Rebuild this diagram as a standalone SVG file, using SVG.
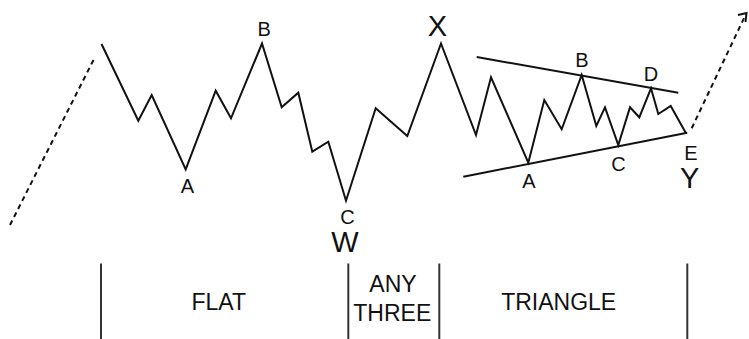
<svg xmlns="http://www.w3.org/2000/svg" width="749" height="339" viewBox="0 0 749 339">
<style>
.ln{fill:none;stroke:#111;stroke-width:2;stroke-linejoin:miter;stroke-linecap:butt}
.dash{fill:none;stroke:#111;stroke-width:2;stroke-dasharray:5 4}
.div{stroke:#333;stroke-width:2}
.sm{font-family:"Liberation Sans",Arial,sans-serif;font-size:20px;fill:#111;text-anchor:middle}
.big{font-family:"Liberation Sans",Arial,sans-serif;font-size:29px;fill:#111;text-anchor:middle}
.sec{font-family:"Liberation Sans",Arial,sans-serif;font-size:23px;fill:#111;text-anchor:middle}
</style>
<rect width="749" height="339" fill="#fff"/>
<g id="connectors">
<path class="dash" d="M10,225 L95,57"/>
<polyline class="ln" points="101.5,44 138.3,120.7 151.7,95 185.7,169.3 215.7,90.7 231,118.3 262,43.5 281.7,107.3 298.3,92.7 312.3,151.7 328.3,141.7 346,200.7 375.7,108.3 407.3,136 441,43.5 476,135 491,77.3 528.3,162.7 544.3,100 561.7,129.3 581.7,75 596.3,126 605,107.3 618.3,145 630,107.3 639.3,117.3 651,88.3 658.3,114 670.7,106 686,133.3"/>
<path class="ln" d="M476.7,57 L678.3,92.7"/>
<path class="ln" d="M463.3,176.7 L687.3,132.7"/>
<path class="dash" d="M691.7,128.3 L745,16"/>
<polyline class="ln" points="738,15 746.5,13 745.5,22" stroke-width="1.8"/>
</g>
<g id="dividers">
<line class="div" x1="101" y1="263.5" x2="101" y2="339"/>
<line class="div" x1="348.3" y1="263.5" x2="348.3" y2="339"/>
<line class="div" x1="439.3" y1="263.5" x2="439.3" y2="339"/>
<line class="div" x1="687.3" y1="263.5" x2="687.3" y2="339"/>
</g>
<g id="label-A1"><text class="sm" x="187.5" y="192.5">A</text></g>
<g id="label-B1"><text class="sm" x="264.2" y="36">B</text></g>
<g id="label-C1"><text class="sm" x="347.5" y="224">C</text></g>
<g id="label-W"><text class="big" x="345" y="252">W</text></g>
<g id="label-X"><text class="big" x="437.5" y="36">X</text></g>
<g id="label-A2"><text class="sm" x="528.8" y="188.3">A</text></g>
<g id="label-B2"><text class="sm" x="582" y="66.7">B</text></g>
<g id="label-C2"><text class="sm" x="618.5" y="170.7">C</text></g>
<g id="label-D"><text class="sm" x="651" y="80.7">D</text></g>
<g id="label-E"><text class="sm" x="691" y="160">E</text></g>
<g id="label-Y"><text class="big" x="689.7" y="188.3">Y</text></g>
<g id="section-flat"><text class="sec" x="218.7" y="310">FLAT</text></g>
<g id="section-any-three"><text class="sec" x="393" y="291.7">ANY</text><text class="sec" x="392.3" y="321">THREE</text></g>
<g id="section-triangle"><text class="sec" x="558.7" y="310">TRIANGLE</text></g>
</svg>
